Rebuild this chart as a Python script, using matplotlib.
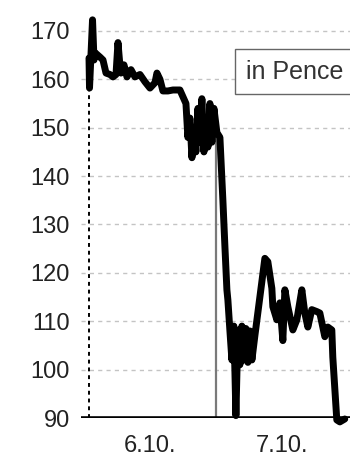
import matplotlib.pyplot as plt

plt.rcParams['font.family'] = ['Liberation Sans', 'DejaVu Sans']

# time in hours since start of 6.10., price in pence
hours = [0.91, 1.0, 1.55, 1.82, 2.0, 2.91, 3.45, 4.0, 4.73, 5.27, 5.82, 6.18, 6.45,
         6.73, 7.27, 7.82, 8.55, 9.27, 10.18, 11.09, 12.0, 12.91, 13.27, 13.82, 14.36,
         15.27, 16.18, 17.45, 18.0, 18.55, 18.9, 19.27, 19.64, 20.0, 20.36, 20.73,
         21.09, 21.45, 21.82, 22.18, 22.55, 22.91, 23.27, 23.64, 24.18, 24.73, 25.27,
         25.64, 26.0, 26.18, 26.55, 26.91, 27.27, 27.64, 28.0, 28.36, 28.73, 29.09,
         29.45, 29.82, 30.18, 30.55, 31.09, 32.0, 32.91, 33.45, 34.18, 34.36, 35.09,
         35.64, 36.18, 36.55, 37.09, 38.0, 38.73, 39.64, 40.18, 40.73, 41.45, 42.36,
         42.91, 43.45, 43.82, 44.36, 45.09, 45.27, 46.0, 46.55, 47.45]
price = [164.4, 158.2, 172.3, 164.0, 165.5, 164.6, 164.0, 161.3, 161.0, 160.5, 161.0,
         167.6, 164.0, 161.3, 163.0, 160.5, 162.0, 160.5, 161.0, 159.5, 158.2, 159.3,
         161.3, 160.0, 157.6, 157.6, 157.8, 157.8, 156.4, 155.0, 148.0, 152.0, 143.8,
         150.0, 145.0, 154.0, 147.0, 156.0, 145.0, 152.0, 146.0, 155.0, 147.0, 154.0,
         149.0, 148.0, 135.0, 125.4, 116.5, 114.4, 108.0, 102.0, 109.0, 90.5, 108.0,
         101.0, 109.0, 102.0, 108.5, 101.5, 108.0, 102.0, 107.0, 115.0, 123.0, 122.3,
         116.8, 113.0, 110.3, 113.8, 106.0, 116.5, 113.0, 108.2, 110.3, 116.5, 111.7,
         108.8, 112.4, 112.0, 111.7, 108.8, 106.8, 108.8, 108.2, 102.6, 89.6, 89.2, 89.8]

yticks = [90, 100, 110, 120, 130, 140, 150, 160, 170]
xticks = [12, 36]
xlabels = ['6.10.', '7.10.']

fig = plt.figure(figsize=(3.5, 4.59), dpi=100)
ax = fig.add_axes([0.2314, 0.0893, 0.7686, 0.8854])

for y in yticks[1:]:
    ax.axhline(y, color='#c4c4c4', lw=1, ls=(0, (3, 3)), zorder=1)

# market open marker and day break
ax.plot([hours[0], hours[0]], [90, 158], color='black', lw=1.4, ls=(0, (2, 2)), zorder=2)
ax.plot([24, 24], [90, 149], color='#7a7a7a', lw=1.6, zorder=2)

ax.plot(hours, price, color='black', lw=5, solid_joinstyle='round',
        solid_capstyle='round', clip_on=False, zorder=3)

ax.axhline(90, color='black', lw=2.6, zorder=4)

ax.text(29.45, 161.6, 'in Pence', fontsize=18, va='center', ha='left', color='#333333',
        bbox=dict(boxstyle='square,pad=0.42', fc='white', ec='#666666', lw=1), zorder=5)

ax.set_xlim(-0.55, 48.4)
ax.set_ylim(90, 174)
ax.set_yticks(yticks)
ax.set_xticks(xticks)
ax.set_xticklabels(xlabels)
ax.tick_params(length=0, labelsize=17, colors='#222222')
ax.tick_params(axis='y', pad=8)
ax.tick_params(axis='x', pad=12)
for s in ax.spines.values():
    s.set_visible(False)

fig.savefig('out.png', dpi=100)
